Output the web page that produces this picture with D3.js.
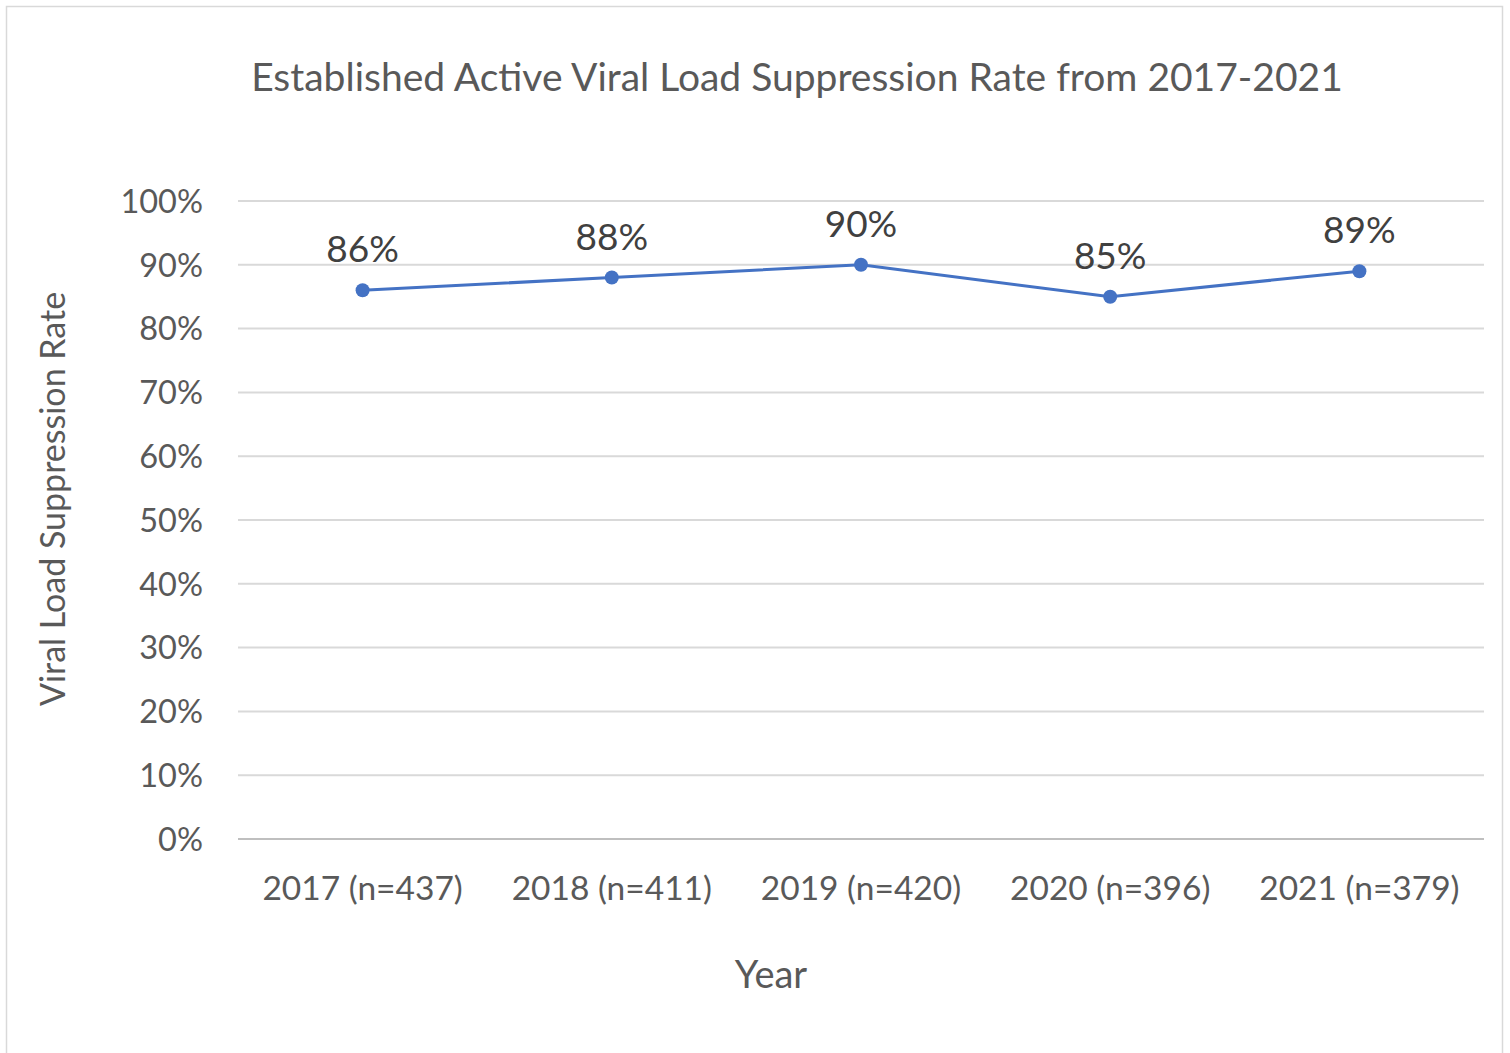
<!DOCTYPE html>
<html><head><meta charset="utf-8">
<script src="https://cdn.jsdelivr.net/npm/d3@7"></script>
<style>html,body{margin:0;padding:0;background:#fff;}svg{display:block;}</style>
</head><body>
<svg id="c" width="1510" height="1053"></svg>
<script>
const categories = ["2017 (n=437)","2018 (n=411)","2019 (n=420)","2020 (n=396)","2021 (n=379)"];
const rates = [0.86, 0.88, 0.90, 0.85, 0.89];
const yTicks = [0,0.1,0.2,0.3,0.4,0.5,0.6,0.7,0.8,0.9,1.0];
const titleText = "Established Active Viral Load Suppression Rate from 2017-2021";
const xTitle = "Year";
const yTitle = "Viral Load Suppression Rate";

const FONT = "Lato, 'Open Sans', sans-serif";
const svg = d3.select("#c");
svg.append("rect").attr("x",6.5).attr("y",6.5).attr("width",1496).attr("height",1060)
  .attr("fill","#fff").attr("stroke","#d9d9d9").attr("stroke-width",1.5);

const L=238,R=1484,T=201,B=839;
const x = d3.scaleBand().domain(categories).range([L,R]);
const y = d3.scaleLinear().domain([0,1]).range([B,T]);

// gridlines
svg.append("g").selectAll("line").data(yTicks).join("line")
  .attr("x1",L).attr("x2",R).attr("y1",d=>y(d)).attr("y2",d=>y(d))
  .attr("stroke",(d)=>d===0?"#bfbfbf":"#d9d9d9").attr("stroke-width",2);

// y axis labels
const yAxis = d3.axisLeft(y).tickValues(yTicks).tickFormat(d3.format(".0%")).tickSize(0).tickPadding(0);
const gy = svg.append("g").attr("transform",`translate(203,0)`).call(yAxis);
gy.select(".domain").remove();
gy.selectAll("text").attr("font-family",FONT).attr("font-size",32.5).attr("fill","#595959").attr("dy","0.35em");

// x axis labels
const xAxis = d3.axisBottom(x).tickSize(0).tickPadding(0);
const gx = svg.append("g").attr("transform",`translate(0,${B})`).call(xAxis);
gx.select(".domain").remove();
gx.selectAll("text").attr("font-family",FONT).attr("font-size",33.5).attr("fill","#595959").attr("dy",0).attr("y",61);

// line
const cx = d=>x(d)+x.bandwidth()/2;
const line = d3.line().x((d,i)=>cx(categories[i])).y(d=>y(d));
svg.append("path").datum(rates).attr("d",line).attr("fill","none").attr("stroke","#4472C4").attr("stroke-width",3);
svg.append("g").selectAll("circle").data(rates).join("circle")
  .attr("cx",(d,i)=>cx(categories[i])).attr("cy",d=>y(d)).attr("r",7).attr("fill","#4472C4");
svg.append("g").selectAll("text").data(rates).join("text")
  .attr("x",(d,i)=>cx(categories[i])).attr("y",d=>y(d)-28)
  .attr("text-anchor","middle").attr("font-family",FONT).attr("font-size",37).attr("fill","#404040")
  .text(d3.format(".0%"));

// titles
svg.append("text").attr("x",797).attr("y",91).attr("text-anchor","middle")
  .attr("font-family",FONT).attr("font-size",39).attr("fill","#595959").text(titleText);
svg.append("text").attr("x",771).attr("y",988).attr("text-anchor","middle")
  .attr("font-family",FONT).attr("font-size",38).attr("fill","#595959").text(xTitle);
svg.append("text").attr("transform","translate(65,499) rotate(-90)").attr("text-anchor","middle")
  .attr("font-family",FONT).attr("font-size",34).attr("fill","#595959").text(yTitle);
</script>
</body></html>
